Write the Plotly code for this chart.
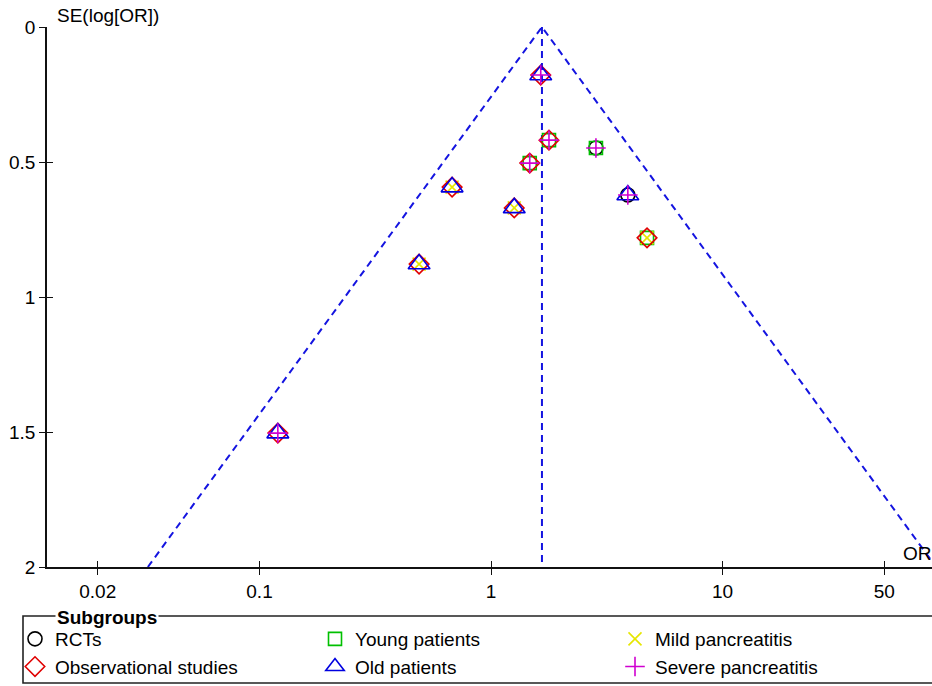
import math
import plotly.graph_objects as go

# ---- data ----
odds_ratio = [1.64, 1.78, 1.47, 2.84, 3.90, 4.72, 1.26, 0.679, 0.489, 0.120]
se_log_or  = [0.178, 0.419, 0.504, 0.448, 0.622, 0.781, 0.670, 0.593, 0.878, 1.504]
design     = ["Obs", "Obs", "Obs", "RCT", "RCT", "Obs", "Obs", "Obs", "Obs", "Obs"]
age_group  = ["Old", "Young", "Young", "Young", "Old", "Young", "Old", "Old", "Old", "Old"]
severity   = ["Severe", "Severe", "Severe", "Severe", "Severe", "Mild", "Mild", "Mild", "Mild", "Severe"]

pooled_or = 1.66
z_95 = 1.96
se_max = 2.0

x_tick_vals = [0.02, 0.1, 1, 10, 50]
x_tick_text = ["0.02", "0.1", "1", "10", "50"]
y_tick_vals = [0, 0.5, 1, 1.5, 2]
y_tick_text = ["0", "0.5", "1", "1.5", "2"]

# legend order (row-wise): RCTs, Young, Mild / Observational, Old, Severe
subgroups = [
    ("RCTs", design, "RCT", "circle-open", "#000000", 14),
    ("Young patients", age_group, "Young", "square-open", "#00c000", 13),
    ("Mild pancreatitis", severity, "Mild", "x-thin-open", "#e6e600", 13),
    ("Observational studies", design, "Obs", "diamond-open", "#e00000", 15),
    ("Old patients", age_group, "Old", "triangle-up-open", "#0000e0", 19),
    ("Severe pancreatitis", severity, "Severe", "cross-thin-open", "#d000d0", 14),
]

FONT = "Liberation Sans, Arial, sans-serif"

fig = go.Figure()

# funnel (95% pseudo-confidence limits) and pooled estimate line
ln_p = math.log(pooled_or)
left_end = math.exp(ln_p - z_95 * se_max)
right_end = math.exp(ln_p + z_95 * se_max)
fig.add_trace(go.Scatter(x=[left_end, pooled_or, right_end], y=[se_max, 0, se_max],
                         mode="lines", line=dict(color="#1414e0", width=2, dash="7px,5px"),
                         showlegend=False, hoverinfo="skip"))
fig.add_trace(go.Scatter(x=[pooled_or, pooled_or], y=[0, se_max],
                         mode="lines", line=dict(color="#1414e0", width=2, dash="7px,5px"),
                         showlegend=False, hoverinfo="skip"))

for name, attr, val, sym, col, size in subgroups:
    xs = [o for o, a in zip(odds_ratio, attr) if a == val]
    ys = [s for s, a in zip(se_log_or, attr) if a == val]
    fig.add_trace(go.Scatter(x=xs, y=ys, mode="markers", name=name,
                             marker=dict(symbol=sym, size=size, color=col,
                                         line=dict(color=col, width=1.6)),
                             cliponaxis=False))

# empty trace on overlay axes to get ticks crossing the axis lines
fig.add_trace(go.Scatter(x=[], y=[], xaxis="x2", yaxis="y2", showlegend=False))

x_range = [-1.918, 1.905]
y_range = [2, 0]

PW, PH, ML, MT = 885, 540, 47, 27   # plot area size and offsets (px)

def px_x(p):
    return (p - ML) / PW

def px_y(p):
    return (MT + PH - p) / PH

fig.update_layout(
    width=932, height=686,
    margin=dict(l=ML, r=0, t=MT, b=686 - MT - PH),
    plot_bgcolor="white", paper_bgcolor="white",
    font=dict(family=FONT, size=19, color="#000000"),
    xaxis=dict(type="log", range=x_range, tickvals=x_tick_vals, ticktext=x_tick_text,
               ticks="outside", ticklen=6, tickwidth=1.3, tickcolor="#111",
               showline=True, linecolor="#111", linewidth=1.6,
               showgrid=False, zeroline=False, tickfont=dict(size=19)),
    yaxis=dict(range=y_range, tickvals=y_tick_vals, ticktext=y_tick_text,
               ticks="outside", ticklen=6, tickwidth=1.3, tickcolor="#111",
               showline=True, linecolor="#111", linewidth=1.6,
               showgrid=False, zeroline=False, tickfont=dict(size=19)),
    xaxis2=dict(type="log", range=x_range, tickvals=x_tick_vals, overlaying="x",
                anchor="y", ticks="inside", ticklen=6, tickwidth=1.3, tickcolor="#111",
                showticklabels=False, showgrid=False, zeroline=False, showline=False),
    yaxis2=dict(range=y_range, tickvals=y_tick_vals, overlaying="y", anchor="x",
                ticks="inside", ticklen=6, tickwidth=1.3, tickcolor="#111",
                showticklabels=False, showgrid=False, zeroline=False, showline=False),
    legend=dict(orientation="h", x=px_x(15), xanchor="left", y=px_y(686), yanchor="bottom",
                entrywidth=255, entrywidthmode="pixels",
                font=dict(size=19, family=FONT), bgcolor="rgba(0,0,0,0)",
                itemclick=False, tracegroupgap=0),
    showlegend=True,
)

# legend frame and title
fig.add_shape(type="rect", xref="paper", yref="paper",
              x0=px_x(23), x1=px_x(945), y0=px_y(683), y1=px_y(616),
              line=dict(color="#222", width=1.6), fillcolor="rgba(0,0,0,0)")
fig.add_annotation(text="<b>Subgroups</b>", xref="paper", yref="paper",
                   x=px_x(55), y=px_y(617), xanchor="left", yanchor="middle",
                   showarrow=False, bgcolor="white", font=dict(size=19, family=FONT),
                   borderpad=1)

fig.add_annotation(text="SE(log[OR])", xref="paper", yref="paper",
                   x=px_x(55), y=px_y(15), xanchor="left", yanchor="middle",
                   showarrow=False, font=dict(size=19, family=FONT))
fig.add_annotation(text="OR", xref="paper", yref="paper",
                   x=px_x(901), y=px_y(553), xanchor="left", yanchor="middle",
                   showarrow=False, font=dict(size=19, family=FONT))

fig.write_html("out.html", config={"displayModeBar": False},
               post_script="document.body.style.margin='0';document.body.style.overflow='hidden';")
